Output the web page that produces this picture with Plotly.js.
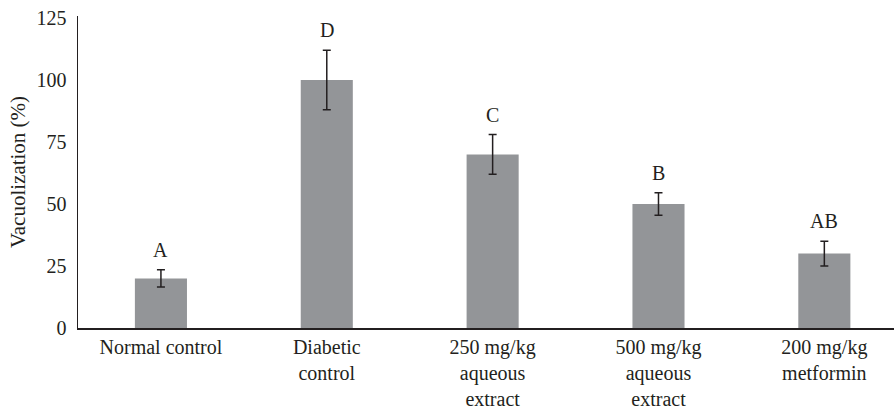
<!DOCTYPE html>
<html>
<head>
<meta charset="utf-8">
<script src="https://cdn.plot.ly/plotly-3.0.1.min.js"></script>
<style>html,body{margin:0;padding:0;background:#fff;}#chart{width:894px;height:408px;}</style>
</head>
<body>
<div id="chart"></div>
<script>
const categories = ["Normal control", "Diabetic<br>control", "250 mg/kg<br>aqueous<br>extract", "500 mg/kg<br>aqueous<br>extract", "200 mg/kg<br>metformin"];
const values = [20, 100, 70, 50, 30];
const errors = [3.5, 12, 8, 4.5, 5];
const letters = ["A", "D", "C", "B", "AB"];
const yTicks = [0, 25, 50, 75, 100, 125];

const FONT = "Times New Roman, Liberation Serif, DejaVu Serif, serif";
const TXT = "#231f20";

const trace = {
  type: "bar",
  x: categories,
  y: values,
  marker: {color: "#939598"},
  width: 0.314,
  error_y: {type: "data", array: errors, visible: true, color: "#231f20", thickness: 1.5, width: 4},
  hoverinfo: "skip"
};

const annotations = categories.map((c, i) => ({
  x: c, y: values[i] + errors[i], xref: "x", yref: "y",
  text: letters[i], showarrow: false, yanchor: "bottom", yshift: 7,
  font: {family: FONT, size: 20, color: TXT}
}));

const layout = {
  width: 894, height: 408,
  margin: {l: 78, r: 0, t: 16, b: 80},
  paper_bgcolor: "#fff", plot_bgcolor: "#fff",
  showlegend: false,
  font: {family: FONT, size: 20, color: TXT},
  xaxis: {
    type: "category", range: [-0.5, 4.42],
    showline: true, linecolor: "#231f20", linewidth: 1.5,
    showgrid: false, zeroline: false, ticks: "", ticklen: 0,
    tickfont: {family: FONT, size: 20, color: TXT}
  },
  yaxis: {
    range: [0, 125.8], tickvals: yTicks, ticktext: yTicks.map(String),
    showline: true, linecolor: "#231f20", linewidth: 1.5,
    showgrid: false, zeroline: false, ticks: "",
    ticklabelstandoff: 6,
    tickfont: {family: FONT, size: 20, color: TXT},
    title: {text: "Vacuolization (%)", font: {family: FONT, size: 21, color: TXT}, standoff: 5}
  },
  annotations: annotations
};

Plotly.newPlot("chart", [trace], layout, {staticPlot: true});
</script>
</body>
</html>
